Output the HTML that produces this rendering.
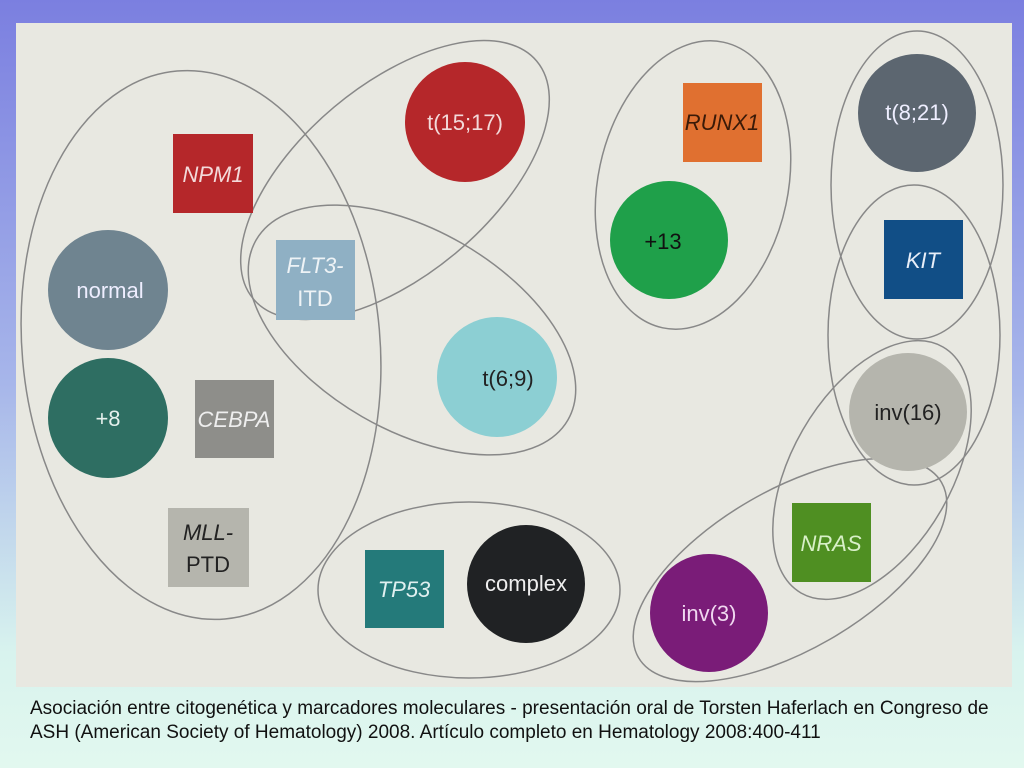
<!DOCTYPE html>
<html><head><meta charset="utf-8"><style>
html,body{margin:0;padding:0;}
body{width:1024px;height:768px;overflow:hidden;background:linear-gradient(#7b7fe0 0%,#a7b6ea 50%,#d8f3ee 85%,#e2f8ef 100%);font-family:"Liberation Sans",Arial,sans-serif;position:relative;}
svg{position:absolute;left:0;top:0;}
.cap{position:absolute;left:30px;top:697px;font-size:19px;line-height:24px;color:#111;white-space:nowrap;}
</style></head><body>
<svg width="1024" height="768" font-family="Liberation Sans, Arial, sans-serif">
<rect x="16" y="23" width="996" height="664" fill="#e8e8e1"/>
<g fill="none" stroke="#888" stroke-width="1.5">
<ellipse cx="201" cy="345" rx="179" ry="275" transform="rotate(-5 201 345)"/>
<ellipse cx="395" cy="180" rx="185" ry="95" transform="rotate(-40 395 180)"/>
<ellipse cx="412" cy="330" rx="180" ry="100" transform="rotate(30 412 330)"/>
<ellipse cx="693" cy="185" rx="95" ry="146" transform="rotate(12 693 185)"/>
<ellipse cx="917" cy="185" rx="86" ry="154"/>
<ellipse cx="914" cy="335" rx="86" ry="150"/>
<ellipse cx="872" cy="470" rx="80" ry="142" transform="rotate(30 872 470)"/>
<ellipse cx="790" cy="570" rx="175" ry="80" transform="rotate(-30 790 570)"/>
<ellipse cx="469" cy="590" rx="151" ry="88"/>
</g>
<g font-size="22" text-anchor="middle">
<rect x="173" y="134" width="80" height="79" fill="#b5272a"/><text x="213" y="182" fill="#f3dada" font-style="italic">NPM1</text>
<circle cx="465" cy="122" r="60" fill="#b5272a"/><text x="465" y="130" fill="#f3dada">t(15;17)</text>
<rect x="276" y="240" width="79" height="80" fill="#8fb0c4"/><text x="315" y="273" fill="#eef3f6" font-style="italic">FLT3-</text><text x="315" y="306" fill="#eef3f6">ITD</text>
<circle cx="108" cy="290" r="60" fill="#6f8490"/><text x="110" y="298" fill="#eef">normal</text>
<circle cx="108" cy="418" r="60" fill="#2e6e62"/><text x="108" y="426" fill="#e5f0ec">+8</text>
<rect x="195" y="380" width="79" height="78" fill="#8e8e8a"/><text x="234" y="427" fill="#eee" font-style="italic">CEBPA</text>
<rect x="168" y="508" width="81" height="79" fill="#b5b5ad"/><text x="208" y="540" fill="#222" font-style="italic">MLL-</text><text x="208" y="572" fill="#222">PTD</text>
<circle cx="497" cy="377" r="60" fill="#8ccfd3"/><text x="508" y="386" fill="#222">t(6;9)</text>
<rect x="683" y="83" width="79" height="79" fill="#e07030"/><text x="722" y="130" fill="#3a1a08" font-style="italic">RUNX1</text>
<circle cx="669" cy="240" r="59" fill="#1fa04a"/><text x="663" y="249" fill="#111">+13</text>
<circle cx="917" cy="113" r="59" fill="#5c6670"/><text x="917" y="120" fill="#eef">t(8;21)</text>
<rect x="884" y="220" width="79" height="79" fill="#114e86"/><text x="923" y="268" fill="#e8eef8" font-style="italic">KIT</text>
<circle cx="908" cy="412" r="59" fill="#b5b5ad"/><text x="908" y="420" fill="#222">inv(16)</text>
<rect x="792" y="503" width="79" height="79" fill="#4f8f22"/><text x="831" y="551" fill="#d8f0c8" font-style="italic">NRAS</text>
<circle cx="709" cy="613" r="59" fill="#7a1c78"/><text x="709" y="621" fill="#f0d8f0">inv(3)</text>
<rect x="365" y="550" width="79" height="78" fill="#247a7a"/><text x="404" y="597" fill="#e0f0f0" font-style="italic">TP53</text>
<circle cx="526" cy="584" r="59" fill="#202224"/><text x="526" y="591" fill="#eee">complex</text>
</g>
</svg>
<div class="cap">Asociación entre citogenética y marcadores moleculares - presentación oral de Torsten Haferlach en Congreso de<br>ASH (American Society of Hematology) 2008. Artículo completo en Hematology 2008:400-411</div>
</body></html>
